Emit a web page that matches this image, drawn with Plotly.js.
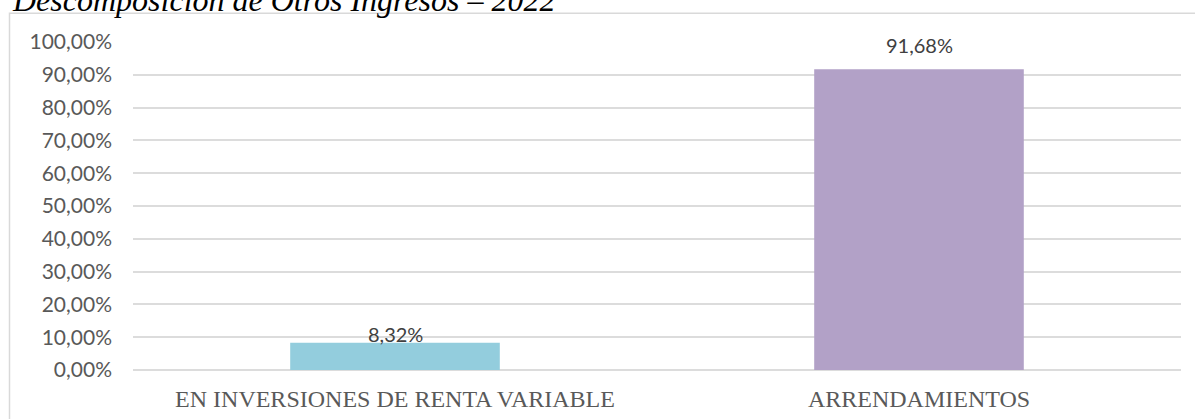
<!DOCTYPE html>
<html>
<head>
<meta charset="utf-8">
<script src="https://cdn.plot.ly/plotly-3.0.1.min.js"></script>
<style>html,body{margin:0;padding:0;background:#fff;}#chart{width:1195px;height:419px;}</style>
</head>
<body>
<div id="chart"></div>
<script>
const categories = ["EN INVERSIONES DE RENTA VARIABLE", "ARRENDAMIENTOS"];
const values = [0.0832, 0.9168];
const valueLabels = ["8,32%", "91,68%"];
const barColors = ["#93CDDD", "#B2A1C7"];
const chartTitle = "Descomposición de Otros Ingresos – 2022";

const W = 1195, H = 419;
const L = 133, R = 14, T = 42, B = 49;
const pw = W - L - R, ph = H - T - B;
const px = v => (v - L) / pw;
const py = v => 1 + (T - v) / ph;

const trace = {
  type: "bar",
  x: categories,
  y: values,
  marker: {color: barColors},
  hoverinfo: "skip"
};

const labelShift = [-5, 10];
const annotations = categories.map((c, i) => ({
  x: c, y: values[i], xref: "x", yref: "y",
  text: valueLabels[i], showarrow: false,
  yanchor: "bottom", yshift: labelShift[i],
  font: {family: "Lato, 'Open Sans', sans-serif", size: 20, color: "#404040"}
}));
annotations.push({
  xref: "paper", yref: "paper", x: px(10), y: py(20),
  xanchor: "left", yanchor: "bottom",
  text: "<i>" + chartTitle + "</i>", showarrow: false,
  font: {family: "'Liberation Serif', 'Times New Roman', serif", size: 32, color: "#000"}
});

const layout = {
  width: W, height: H,
  margin: {l: L, r: R, t: T, b: B, pad: 0},
  paper_bgcolor: "#fff", plot_bgcolor: "#fff",
  separators: ",.",
  showlegend: false,
  bargap: 0.6,
  xaxis: {
    showgrid: false, zeroline: false, showline: false, ticks: "",
    tickfont: {family: "'Liberation Serif', 'Times New Roman', serif", size: 24, color: "#595959"},
    ticklabelstandoff: 12,
    fixedrange: true
  },
  yaxis: {
    range: [0, 1], dtick: 0.1, tick0: 0,
    tickformat: ".2%",
    showgrid: true, gridcolor: "#DCDCDC", gridwidth: 2,
    zeroline: true, zerolinecolor: "#DCDCDC", zerolinewidth: 2,
    showline: false, ticks: "",
    tickfont: {family: "Lato, 'Open Sans', sans-serif", size: 21, color: "#595959"},
    ticklabelstandoff: 20,
    fixedrange: true
  },
  annotations: annotations,
  shapes: [{
    type: "rect", xref: "paper", yref: "paper",
    x0: px(9.5), x1: 1.2, y0: -0.3, y1: py(13.3),
    line: {color: "#D9D9D9", width: 1.5}, layer: "below"
  }]
};

Plotly.newPlot("chart", [trace], layout, {displayModeBar: false, staticPlot: true});
</script>
</body>
</html>
